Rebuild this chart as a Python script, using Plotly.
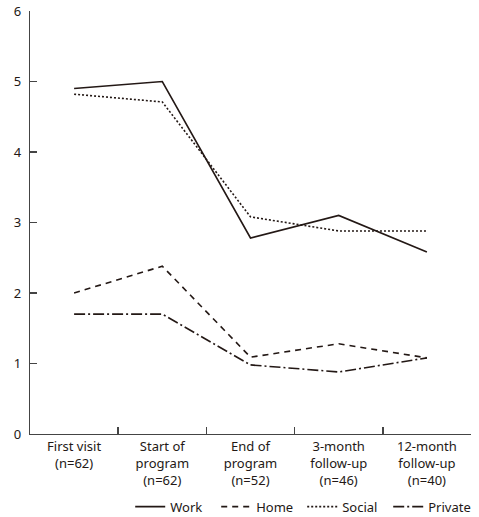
import plotly.graph_objects as go

categories = ["First visit<br>(n=62)", "Start of<br>program<br>(n=62)", "End of<br>program<br>(n=52)",
              "3-month<br>follow-up<br>(n=46)", "12-month<br>follow-up<br>(n=40)"]
work = [4.9, 5.0, 2.78, 3.1, 2.58]
home = [2.0, 2.38, 1.09, 1.28, 1.08]
social = [4.82, 4.71, 3.08, 2.88, 2.88]
private = [1.7, 1.7, 0.98, 0.88, 1.08]
y_ticks = [0, 1, 2, 3, 4, 5, 6]

series = [("Work", work, "solid"), ("Home", home, "6px,5px"),
          ("Social", social, "2px,2px"), ("Private", private, "11px,3px,2px,3px")]

INK = "#231815"
AX = "#444444"
fig = go.Figure()
for name, vals, dash in series:
    fig.add_trace(go.Scatter(x=categories, y=vals, mode="lines", name=name,
                             line=dict(color=INK, width=1.6, dash=dash)))

fig.update_layout(
    width=479, height=517,
    margin=dict(l=30, r=8, t=11, b=83),
    paper_bgcolor="white", plot_bgcolor="white",
    font=dict(family="Noto Sans, sans-serif", size=13, color=INK),
    showlegend=True,
    legend=dict(orientation="h", xref="container", yref="container",
                x=0.99, xanchor="right", y=0.049, yanchor="top",
                font=dict(size=13), itemwidth=30, tracegroupgap=0,
                entrywidth=41, entrywidthmode="pixels",
                bgcolor="rgba(0,0,0,0)"),
    xaxis=dict(type="category", range=[-0.5, 4.5], tickson="boundaries",
               ticks="inside", ticklen=7, tickwidth=1.5, tickcolor=AX, showline=True,
               linecolor=AX, linewidth=1.2, showgrid=False, zeroline=False,
               tickfont=dict(size=13), automargin=False),
    yaxis=dict(range=[0, 6], tickvals=y_ticks, ticks="inside", ticklen=7,
               tickwidth=1.5, tickcolor=AX, showline=True, linecolor=AX, linewidth=1.2,
               showgrid=False, zeroline=False, tickfont=dict(size=13),
               ticklabelstandoff=5, automargin=False),
)
fig.write_html("out.html", config={"displayModeBar": False, "staticPlot": True},
               post_script="document.body.style.margin='0';document.body.style.overflow='hidden';")
